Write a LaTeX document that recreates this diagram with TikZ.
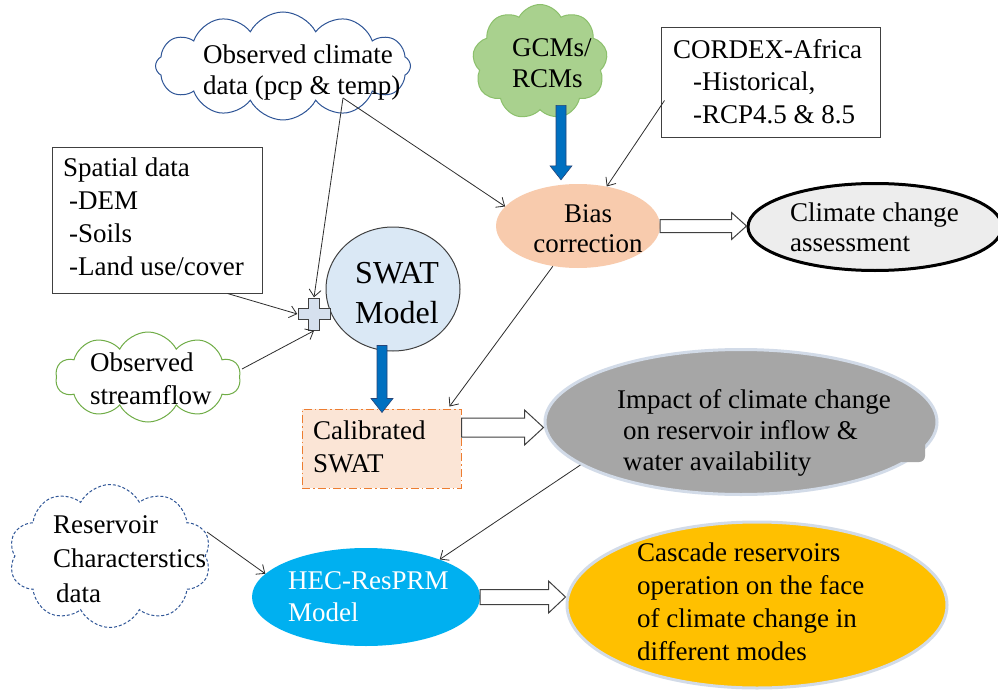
\documentclass[tikz,border=0pt]{standalone}
\usepackage{fontspec}
\setmainfont{Liberation Serif}
\usetikzlibrary{shapes.symbols,shapes.geometric,arrows.meta,calc}
\definecolor{obsblue}{RGB}{47,85,151}
\definecolor{gcmfill}{RGB}{169,209,142}
\definecolor{gcmdraw}{RGB}{140,192,108}
\definecolor{strgreen}{RGB}{112,173,71}
\definecolor{biasfill}{RGB}{248,203,173}
\definecolor{swatfill}{RGB}{218,232,245}
\definecolor{plusfill}{RGB}{214,224,238}
\definecolor{darkline}{RGB}{64,64,64}
\definecolor{calfill}{RGB}{251,229,214}
\definecolor{caldraw}{RGB}{237,125,49}
\definecolor{grayfill}{RGB}{166,166,166}
\definecolor{paleborder}{RGB}{210,219,232}
\definecolor{climfill}{RGB}{237,237,237}
\definecolor{hecfill}{RGB}{0,176,240}
\definecolor{cascfill}{RGB}{255,192,0}
\definecolor{arrblue}{RGB}{0,112,192}
\definecolor{arrblueedge}{RGB}{38,68,120}
\definecolor{conncol}{RGB}{45,45,45}
\tikzset{
  txt/.style={inner sep=0pt, anchor=north west, align=left, font=\fontsize{27}{#1}\selectfont},
  txt/.default=32,
  cloudnode/.style={cloud, cloud puffs=#1, cloud puff arc=125, cloud ignores aspect, inner sep=0pt, line width=1pt},
  ell/.style={ellipse, inner sep=0pt},
  boxnode/.style={rectangle, draw=darkline, line width=1pt, inner sep=0pt, fill=white},
  conn/.style={draw=conncol, line width=0.8pt, -{Straight Barb[length=7pt,width=12pt]}},
  hollow/.style={draw=darkline, line width=1pt, fill=white},
  bluearr/.style={draw=arrblueedge, line width=0.6pt, fill=arrblue},
}
\newcommand\harrow[5]{%
  \draw[hollow] let \p1=(#1), \p2=(#2) in
    (\x1,\y1+#3) -- (\x2-#5,\y1+#3) -- (\x2-#5,\y1+#4) -- (\x2,\y1)
    -- (\x2-#5,\y1-#4) -- (\x2-#5,\y1-#3) -- (\x1,\y1-#3) -- cycle;}
\newcommand\barrow[2]{%
  \draw[bluearr] let \p1=(#1), \p2=(#2) in
    (\x1-5pt,\y1) -- (\x1-5pt,\y2+14pt) -- (\x1-11pt,\y2+14pt) -- (\x1,\y2)
    -- (\x1+11pt,\y2+14pt) -- (\x1+5pt,\y2+14pt) -- (\x1+5pt,\y1) -- cycle;}
\begin{document}
\begin{tikzpicture}[x=1pt,y=-1pt]
\useasboundingbox (0,0) rectangle (998,690);
\fill[white] (0,0) rectangle (998,690);

% shapes
\node[cloudnode=12, draw=obsblue, fill=white, minimum width=255pt, minimum height=108pt] (obs) at (283,66) {};
\node[cloudnode=9, draw=gcmdraw, fill=gcmfill, minimum width=135pt, minimum height=115pt] (gcm) at (540,62) {};
\node[boxnode, minimum width=219pt, minimum height=110pt] (cordex) at (770.5,83) {};
\node[boxnode, minimum width=210pt, minimum height=146pt] (spat) at (157,220) {};
\node[inner sep=0pt, minimum size=33pt] (plus) at (314,314) {};
\node[ell, draw=darkline, line width=1pt, fill=swatfill, minimum width=134pt, minimum height=124pt] (swat) at (393,289) {};
\node[cloudnode=10, draw=strgreen, fill=white, minimum width=185pt, minimum height=90pt] (stream) at (148,377) {};
\node[ell, fill=biasfill, minimum width=164pt, minimum height=84pt] (bias) at (578,226) {};
\node[ell, draw=black, line width=3pt, fill=climfill, minimum width=254pt, minimum height=87pt] (clim) at (875,227) {};
\node[rectangle, draw=caldraw, line width=1pt, dash pattern=on 8pt off 3pt on 1.5pt off 3pt, fill=calfill, inner sep=0pt, minimum width=159pt, minimum height=79pt] (cal) at (381.5,448.5) {};
\node[ell, draw=paleborder, line width=3pt, fill=grayfill, minimum width=392pt, minimum height=145pt] (gray) at (741,422) {};
\fill[grayfill, rounded corners=6pt] ($(gray.center)+(155,12)$) rectangle ($(gray.center)+(184,40)$);
\node[cloudnode=10, draw=obsblue, dash pattern=on 3pt off 2pt, fill=white, minimum width=202pt, minimum height=143pt] (res) at (110,556) {};
\node[ell, fill=hecfill, minimum width=228pt, minimum height=98pt] (hec) at (366,597) {};
\node[ell, draw=paleborder, line width=3pt, fill=cascfill, minimum width=380pt, minimum height=166pt] (casc) at (757,605) {};

% plus sign
\draw[draw=darkline, line width=1pt, fill=plusfill]
  ([shift={(-5.8,-16)}]plus.center) -- ([shift={(5.8,-16)}]plus.center)
  -- ([shift={(5.8,-5.8)}]plus.center) -- ([shift={(16,-5.8)}]plus.center)
  -- ([shift={(16,5.8)}]plus.center) -- ([shift={(5.8,5.8)}]plus.center)
  -- ([shift={(5.8,16)}]plus.center) -- ([shift={(-5.8,16)}]plus.center)
  -- ([shift={(-5.8,5.8)}]plus.center) -- ([shift={(-16,5.8)}]plus.center)
  -- ([shift={(-16,-5.8)}]plus.center) -- ([shift={(-5.8,-5.8)}]plus.center) -- cycle;

% texts
\node[txt=31] (obsT) at (203,45) {Observed climate\\data (pcp \& temp)};
\node[txt=31] (gcmT) at (512,38) {GCMs/\\RCMs};
\node[txt=32.5] (cordexT) at (673,39) {CORDEX-Africa\\\hspace*{20pt}-Historical,\\\hspace*{20pt}-RCP4.5 \& 8.5};
\node[txt=33] (spatT) at (63,158) {Spatial data\\\hspace*{6pt}-DEM\\\hspace*{6pt}-Soils\\\hspace*{6pt}-Land use/cover};
\node[inner sep=0pt, anchor=north, align=center, font=\fontsize{32}{40}\selectfont] (swatT) at (397,262) {SWAT\\Model};
\node[txt=33] (streamT) at (90,353) {Observed\\streamflow};
\node[inner sep=0pt, anchor=north, align=center, font=\fontsize{27}{30}\selectfont] (biasT) at (588,204) {Bias\\correction};
\node[txt=30] (climT) at (790,203) {Climate change\\assessment};
\node[txt=33] (calT) at (313,421) {Calibrated\\SWAT};
\node[txt=31] (grayT) at (617,389) {Impact of climate change\\\hspace*{6pt}on reservoir inflow \&\\\hspace*{6pt}water availability};
\node[txt=34.5] (resT) at (53,515) {Reservoir\\Characterstics\\\hspace*{3pt}data};
\node[txt=32, text=white] (hecT) at (288,571) {HEC-ResPRM\\Model};
\node[txt=32.7] (cascT) at (637,543) {Cascade reservoirs\\operation on the face\\of climate change in\\different modes};

% connectors
\draw[conn] ($(obs.center)+(60,32)$) -- (bias.165);
\draw[conn] ($(obs.center)+(60,32)$) -- (plus.north);
\draw[conn] ($(cordex.south west)+(4,-38)$) -- (bias.54);
\draw[conn] ($(spat.south east)+(-35,0)$) -- (plus.west);
\draw[conn] ($(stream.center)+(94,-8)$) -- (plus.south);
\draw[conn] (bias.-122) -- ($(cal.north east)+(-12,-2)$);
\draw[conn] (gray.-165) -- (hec.27);
\draw[conn] ($(res.center)+(97,-24)$) -- (hec.167);

% blue arrows
\barrow{$(gcm.south)+(21,-5)$}{$(bias.north)+(0,-4)$}
\barrow{$(swat.south)+(-11,-6)$}{$(cal.north)+(0,4)$}

% hollow arrows
\harrow{bias.east}{clim.west}{6.5pt}{13.5pt}{15pt}
\harrow{$(cal.east)+(0,-21)$}{gray.west}{9.5pt}{17.5pt}{19pt}
\harrow{hec.east}{casc.west}{7.5pt}{16pt}{17pt}
\end{tikzpicture}
\end{document}
